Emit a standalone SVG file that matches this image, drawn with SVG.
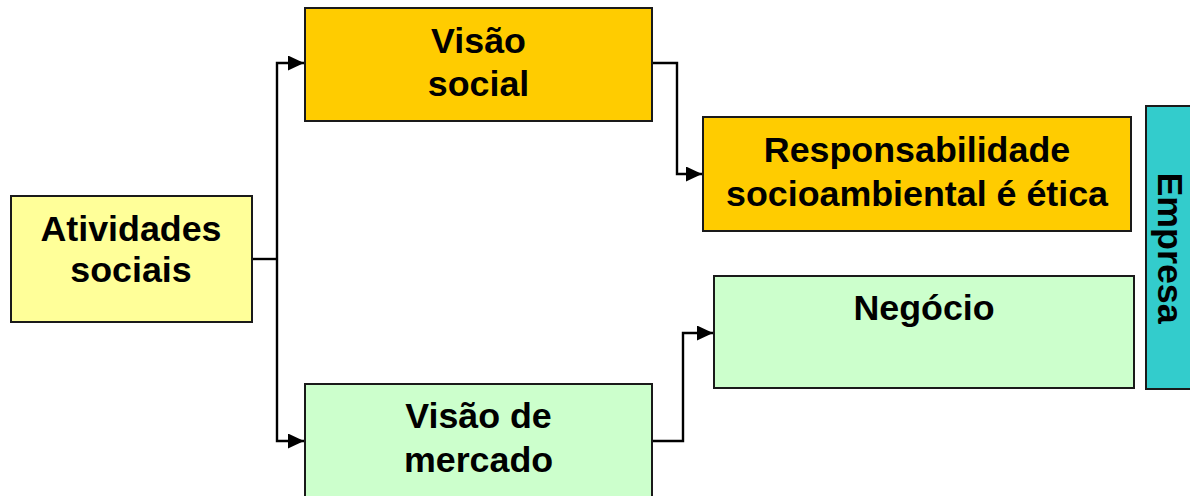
<svg xmlns="http://www.w3.org/2000/svg" width="1190" height="496" viewBox="0 0 1190 496">
<style>
.box{stroke:#1a1a1a;stroke-width:2}
.t{font-family:"Liberation Sans",Arial,sans-serif;font-weight:bold;font-size:35.8px;fill:#000;text-anchor:middle}
.c{fill:none;stroke:#000;stroke-width:2.4}
</style>
<defs>
<marker id="ah" markerUnits="userSpaceOnUse" markerWidth="17" markerHeight="15" refX="16" refY="7.5" orient="auto">
<path d="M0,0 L16,7.5 L0,15 z" fill="#000"/>
</marker>
</defs>
<rect width="1190" height="496" fill="#fff"/>
<g id="connectors">
<path class="c" d="M252,259 H277"/>
<path class="c" d="M277,259 V63 H304" marker-end="url(#ah)"/>
<path class="c" d="M277,259 V441 H304" marker-end="url(#ah)"/>
<path class="c" d="M653,63 H677 V174 H702" marker-end="url(#ah)"/>
<path class="c" d="M653,441 H683 V333 H713" marker-end="url(#ah)"/>
</g>
<g id="atividades">
<rect class="box" x="11" y="196" width="241" height="126" fill="#FFFF99"/>
<text class="t" x="131" y="241">Atividades</text>
<text class="t" x="131" y="282">sociais</text>
</g>
<g id="visao-social">
<rect class="box" x="305" y="8" width="347" height="113" fill="#FFCC00"/>
<text class="t" x="478.5" y="53">Visão</text>
<text class="t" x="478.5" y="96">social</text>
</g>
<g id="responsabilidade">
<rect class="box" x="703" y="117" width="428" height="114" fill="#FFCC00"/>
<text class="t" x="917" y="162">Responsabilidade</text>
<text class="t" x="917" y="206">socioambiental é ética</text>
</g>
<g id="visao-mercado">
<rect class="box" x="305" y="384" width="347" height="116" fill="#CCFFCC"/>
<text class="t" x="478.5" y="428">Visão de</text>
<text class="t" x="478.5" y="472">mercado</text>
</g>
<g id="negocio">
<rect class="box" x="714" y="276" width="420" height="112" fill="#CCFFCC"/>
<text class="t" x="924" y="320">Negócio</text>
</g>
<g id="empresa">
<rect class="box" x="1146" y="106" width="48" height="283" fill="#33CCCC"/>
<text class="t" transform="translate(1158,248) rotate(90)" x="0" y="0">Empresa</text>
</g>
</svg>
